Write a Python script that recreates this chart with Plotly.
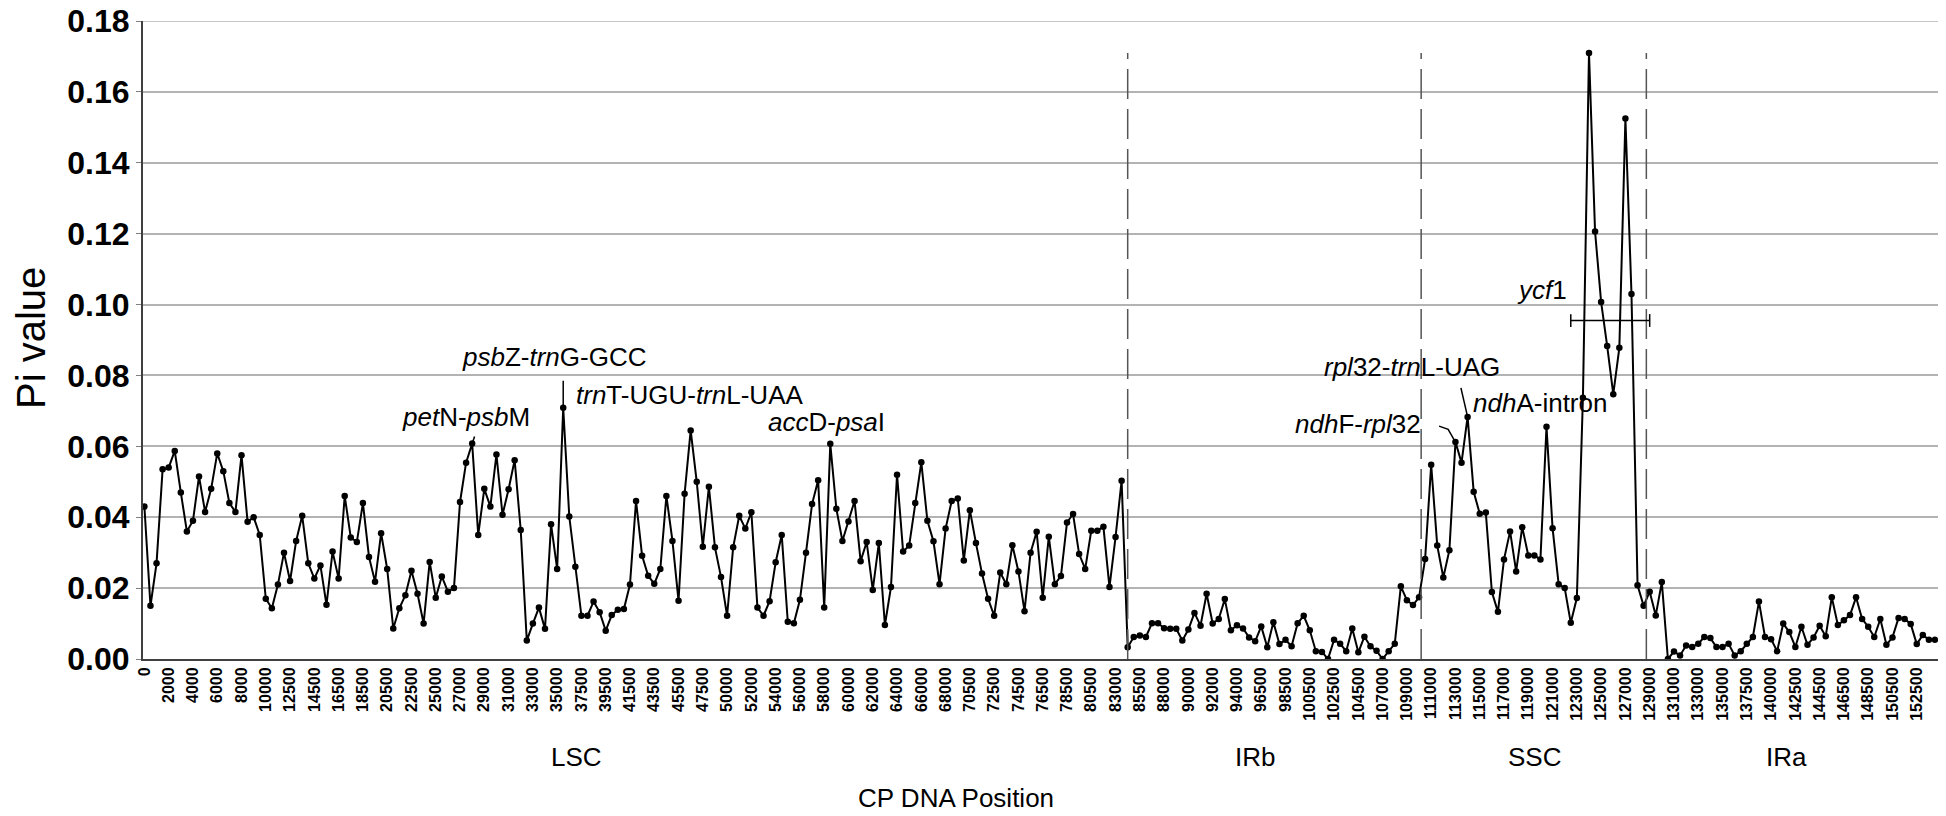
import plotly.graph_objects as go

pi_values = [
    0.043, 0.015, 0.027, 0.0535, 0.054, 0.0587, 0.047, 0.036, 0.039, 0.0515,
    0.0415, 0.048, 0.058, 0.053, 0.044, 0.0415, 0.0575, 0.0387, 0.040, 0.035,
    0.017, 0.0143, 0.021, 0.030, 0.022, 0.0333, 0.0404, 0.027, 0.0227, 0.0264,
    0.0153, 0.0303, 0.0227, 0.046, 0.0343, 0.033, 0.044, 0.0288, 0.0218, 0.0355,
    0.0254, 0.0086, 0.0143, 0.018, 0.0249, 0.0184, 0.010, 0.0274, 0.0173, 0.0233,
    0.019, 0.020, 0.0443, 0.0554, 0.0608, 0.035, 0.048, 0.043, 0.0577, 0.0407,
    0.0479, 0.0561, 0.0364, 0.0052, 0.010, 0.0145, 0.0085, 0.038, 0.0254, 0.0709,
    0.0402, 0.026, 0.0122, 0.0122, 0.0162, 0.0132, 0.008, 0.0124, 0.0139, 0.0141,
    0.021, 0.0446, 0.0291, 0.0235, 0.0212, 0.0254, 0.046, 0.0333, 0.0164, 0.0466,
    0.0645, 0.050, 0.0317, 0.0486, 0.0315, 0.0231, 0.0122, 0.0315, 0.0404, 0.0368,
    0.0414, 0.0145, 0.0122, 0.0163, 0.0273, 0.035, 0.0105, 0.0101, 0.0167, 0.030,
    0.0437, 0.0504, 0.0145, 0.0607, 0.0424, 0.0333, 0.0388, 0.0446, 0.0276, 0.033,
    0.0195, 0.0327, 0.0096, 0.0203, 0.052, 0.0303, 0.032, 0.044, 0.0555, 0.039,
    0.0332, 0.0211, 0.0368, 0.0446, 0.0453, 0.0278, 0.042, 0.0327, 0.0241, 0.017,
    0.0122, 0.0244, 0.0211, 0.0321, 0.0247, 0.0135, 0.030, 0.0359, 0.0173, 0.0345,
    0.0211, 0.0234, 0.0385, 0.0409, 0.0296, 0.0254, 0.0362, 0.0362, 0.0373, 0.0203,
    0.0344, 0.0503, 0.0033, 0.0062, 0.0066, 0.0062, 0.0101, 0.0101, 0.0087, 0.0085,
    0.0085, 0.0052, 0.0083, 0.013, 0.0094, 0.0184, 0.010, 0.0113, 0.0169, 0.0081,
    0.0095, 0.0086, 0.0061, 0.005, 0.0092, 0.0033, 0.0104, 0.0042, 0.0054, 0.0036,
    0.0101, 0.0122, 0.0081, 0.0022, 0.002, 0.0, 0.0054, 0.0043, 0.0022, 0.0086,
    0.0019, 0.0063, 0.0036, 0.0023, 0.0, 0.0022, 0.0043, 0.0205, 0.0166, 0.0152,
    0.0174, 0.0282, 0.0548, 0.032, 0.023, 0.0307, 0.0612, 0.0554, 0.0683, 0.0472,
    0.041, 0.0413, 0.0189, 0.0133, 0.0281, 0.036, 0.0247, 0.0372, 0.0292, 0.0292,
    0.0281, 0.0655, 0.0369, 0.0211, 0.020, 0.0102, 0.0172, 0.0737, 0.171, 0.1206,
    0.1007, 0.0883, 0.0747, 0.0878, 0.1525, 0.103, 0.0208, 0.015, 0.019, 0.0123,
    0.0217, 0.0, 0.0021, 0.001, 0.0038, 0.0034, 0.0043, 0.0062, 0.0059, 0.0034,
    0.0034, 0.0043, 0.001, 0.0022, 0.0043, 0.0062, 0.0162, 0.0062, 0.0056, 0.0022,
    0.01, 0.0076, 0.0034, 0.0091, 0.004, 0.0061, 0.0094, 0.0064, 0.0174, 0.0096,
    0.0109, 0.0124, 0.0174, 0.0113, 0.0091, 0.0062, 0.0113, 0.004, 0.0061, 0.0116,
    0.0113, 0.0099, 0.0042, 0.0068, 0.0054, 0.0054,
]

tick_labels = [
    "0", "2000", "4000", "6000", "8000", "10000", "12500", "14500", "16500", "18500",
    "20500", "22500", "25000", "27000", "29000", "31000", "33000", "35000", "37500", "39500",
    "41500", "43500", "45500", "47500", "50000", "52000", "54000", "56000", "58000", "60000",
    "62000", "64000", "66000", "68000", "70500", "72500", "74500", "76500", "78500", "80500",
    "83000", "85500", "88000", "90000", "92000", "94000", "96500", "98500", "100500", "102500",
    "104500", "107000", "109000", "111000", "113000", "115000", "117000", "119000", "121000", "123000",
    "125000", "127000", "129000", "131000", "133000", "135000", "137500", "140000", "142500", "144500",
    "146500", "148500", "150500", "152500",
]

y_ticks = [0.00, 0.02, 0.04, 0.06, 0.08, 0.10, 0.12, 0.14, 0.16, 0.18]

regions = ["LSC", "IRb", "SSC", "IRa"]
region_centers = [71.2, 183.0, 229.0, 270.5]
boundaries = [162.0, 210.35, 247.45]

# annotation labels: (text, x index, y value)
gene_labels = [
    ("<i>pet</i>N-<i>psb</i>M", 53.0, 0.0683),
    ("<i>psb</i>Z-<i>trn</i>G-GCC", 67.4, 0.0852),
    ("<i>trn</i>T-UGU-<i>trn</i>L-UAA", 89.8, 0.0745),
    ("<i>acc</i>D-<i>psa</i>I", 112.4, 0.0670),
    ("<i>rpl</i>32-<i>trn</i>L-UAG", 208.8, 0.0824),
    ("<i>ndh</i>F-<i>rpl</i>32", 200.0, 0.0663),
    ("<i>ndh</i>A-intron", 230.0, 0.0722),
    ("<i>ycf</i>1", 230.2, 0.1040),
]

x_idx = list(range(len(pi_values)))
tick_idx = x_idx[::4][:len(tick_labels)]

FONT = "Liberation Sans, Arial, sans-serif"
W, H = 1946, 816
ML, MR, MT = 143, 8, 21
PLOT_BOTTOM = 659
MB = H - PLOT_BOTTOM
PW, PH = W - ML - MR, H - MT - MB


def paper_x(page_x):
    return (page_x - ML) / PW


def paper_y(page_y):
    return (PLOT_BOTTOM - page_y) / PH


fig = go.Figure()
fig.add_trace(go.Scatter(
    x=x_idx, y=pi_values, mode="lines+markers",
    line=dict(color="black", width=2),
    marker=dict(color="black", size=6.5),
    showlegend=False, hoverinfo="skip",
))

shapes = []
for b in boundaries:
    shapes.append(dict(type="line", xref="x", yref="y", x0=b, x1=b, y0=0, y1=0.171,
                       line=dict(color="#555555", width=1.5, dash="30px,10px")))
# top gridline (0.18) drawn explicitly so it shows at the plot edge
shapes.append(dict(type="line", xref="paper", yref="y", x0=0, x1=1, y0=y_ticks[-1], y1=y_ticks[-1],
                   line=dict(color="#b3b3b3", width=1.5), layer="below"))
# pointer lines
shapes.append(dict(type="line", xref="x", yref="y", x0=69, x1=69, y0=0.0709, y1=0.0785,
                   line=dict(color="black", width=1.5)))
shapes.append(dict(type="line", xref="x", yref="y", x0=54, x1=54.4, y0=0.0608, y1=0.0628,
                   line=dict(color="black", width=1.5)))
shapes.append(dict(type="path", xref="x", yref="y",
                   path="M 213.3 0.0657 L 214.8 0.0648 L 216 0.0612",
                   line=dict(color="black", width=1.5)))
shapes.append(dict(type="line", xref="x", yref="y", x0=216.9, x1=218, y0=0.0765, y1=0.0683,
                   line=dict(color="black", width=1.5)))
# ycf1 bracket
shapes.append(dict(type="line", xref="x", yref="y", x0=235, x1=248, y0=0.0955, y1=0.0955,
                   line=dict(color="black", width=1.5)))
for xb in (235, 248):
    shapes.append(dict(type="line", xref="x", yref="y", x0=xb, x1=xb, y0=0.0937, y1=0.0973,
                       line=dict(color="black", width=1.5)))

annotations = []
for txt, xa, ya in gene_labels:
    annotations.append(dict(text=txt, x=xa, y=ya, xref="x", yref="y", showarrow=False,
                            font=dict(family=FONT, size=26, color="black"),
                            xanchor="center", yanchor="middle"))
for name, xc in zip(regions, region_centers):
    annotations.append(dict(text=name, x=xc, y=paper_y(757), xref="x", yref="paper",
                            showarrow=False, font=dict(family=FONT, size=26, color="black"),
                            xanchor="center", yanchor="middle"))
annotations.append(dict(text="CP DNA Position", x=paper_x(956), y=paper_y(798),
                        xref="paper", yref="paper", showarrow=False,
                        font=dict(family=FONT, size=26, color="black"),
                        xanchor="center", yanchor="middle"))
annotations.append(dict(text="Pi value", x=paper_x(31), y=paper_y(338),
                        xref="paper", yref="paper", showarrow=False, textangle=-90,
                        font=dict(family=FONT, size=40, color="black"),
                        xanchor="center", yanchor="middle"))

fig.update_layout(
    width=W, height=H,
    margin=dict(l=ML, r=MR, t=MT, b=MB),
    paper_bgcolor="white", plot_bgcolor="white",
    font=dict(family=FONT, color="black"),
    shapes=shapes, annotations=annotations,
    xaxis=dict(
        range=[-0.23, 295.5], tickmode="array", tickvals=tick_idx, ticktext=tick_labels,
        tickangle=-90, tickfont=dict(family=FONT, size=16, color="black", weight="bold"),
        showgrid=False, zeroline=False, showline=True, linecolor="#404040", linewidth=2,
        ticks="", automargin=False,
    ),
    yaxis=dict(
        range=[0, 0.18], tickmode="array", tickvals=y_ticks,
        ticktext=[f"{v:.2f}" for v in y_ticks], ticklabeloverflow="allow",
        tickfont=dict(family=FONT, size=32, color="black", weight="bold"),
        showgrid=True, gridcolor="#b3b3b3", gridwidth=1.5, zeroline=False,
        showline=True, linecolor="#404040", linewidth=2,
        ticks="outside", ticklen=5, tickcolor="#808080", automargin=False,
    ),
)

# remove the browser's default 8px page margin so the figure sits at the page origin
fig.write_html("out.html", config={"displayModeBar": False},
               post_script="document.body.style.margin='0px';")
